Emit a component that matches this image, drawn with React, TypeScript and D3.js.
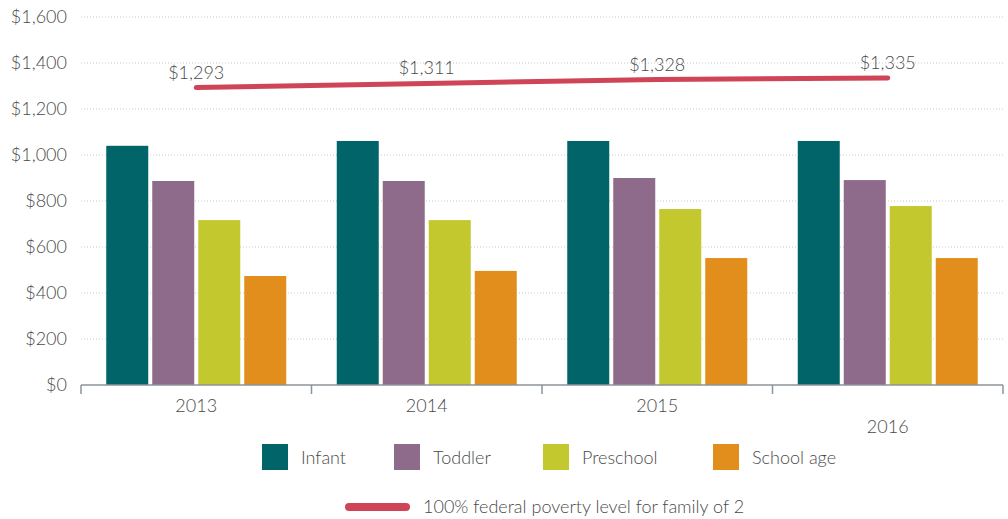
import React from 'react';
import * as d3 from 'd3';

const years = ['2013', '2014', '2015', '2016'];
const seriesNames = ['Infant', 'Toddler', 'Preschool', 'School age'];
const infant = [1040, 1061, 1061, 1061];
const toddler = [887, 887, 900, 891];
const preschool = [717, 717, 765, 778];
const schoolAge = [474, 496, 552, 552];
const poverty = [1293, 1311, 1328, 1335];
const yTicks = [0, 200, 400, 600, 800, 1000, 1200, 1400, 1600];
const povertyLabel = '100% federal poverty level for family of 2';

const colors = ['#006468', '#8e6b8a', '#c3c82f', '#e28e1c'];
const lineColor = '#cf4557';
const textColor = '#4a4a4a';
const font = 'Lato, "Open Sans", sans-serif';

const W = 1008;
const H = 519;
const left = 81;
const right = 1003;
const top = 17;
const bottom = 385;

// legend item x positions (square left edges)
const legendX = [262, 394, 543, 713];

export default function App() {
    const values = [infant, toddler, preschool, schoolAge];

    const x0 = d3.scaleBand<string>().domain(years).range([left, right]).padding(0);
    const x1 = d3.scaleBand<string>()
        .domain(seriesNames)
        .range([-90, 90])
        .paddingInner(4 / 46)
        .paddingOuter(0);
    const y = d3.scaleLinear().domain([0, 1600]).range([bottom, top]);
    const fmt = d3.format('$,');

    const cx = (yr: string) => (x0(yr) || 0) + x0.bandwidth() / 2;

    const line = d3.line<number>()
        .x((_, i) => cx(years[i]))
        .y((d) => y(d));

    return (
        <svg
            width={W}
            height={H}
            style={{ position: 'absolute', left: 0, top: 0, background: '#fff' }}
            fontFamily={font}
            fontWeight={300}
        >
            {/* gridlines */}
            {yTicks.filter((t) => t > 0).map((t) => (
                <line
                    key={'g' + t}
                    x1={left}
                    x2={right}
                    y1={y(t)}
                    y2={y(t)}
                    stroke="#c8c8c8"
                    strokeWidth={1}
                    strokeDasharray="1,2"
                />
            ))}

            {/* y tick labels */}
            {yTicks.map((t) => (
                <text
                    key={'yt' + t}
                    x={67}
                    y={y(t)}
                    dy="0.36em"
                    textAnchor="end"
                    fontSize={18}
                    fill={textColor}
                >
                    {fmt(t)}
                </text>
            ))}

            {/* bars */}
            {years.map((yr, i) => (
                <g key={'b' + yr} transform={`translate(${cx(yr)},0)`}>
                    {seriesNames.map((s, j) => (
                        <rect
                            key={s}
                            x={x1(s)}
                            y={y(values[j][i])}
                            width={x1.bandwidth()}
                            height={bottom - y(values[j][i])}
                            fill={colors[j]}
                        />
                    ))}
                </g>
            ))}

            {/* x axis */}
            <line x1={left} x2={right} y1={bottom} y2={bottom} stroke="#8c939a" strokeWidth={1.5} />
            {years.map((yr) => (
                <line
                    key={'tk' + yr}
                    x1={x0(yr)}
                    x2={x0(yr)}
                    y1={bottom}
                    y2={bottom + 9}
                    stroke="#8c939a"
                    strokeWidth={1.5}
                />
            ))}
            <line x1={right} x2={right} y1={bottom} y2={bottom + 9} stroke="#8c939a" strokeWidth={1.5} />
            {years.map((yr, i) => (
                <text
                    key={'xl' + yr}
                    x={cx(yr)}
                    y={i === 3 ? 433 : 412}
                    textAnchor="middle"
                    fontSize={18}
                    fill={textColor}
                >
                    {yr}
                </text>
            ))}

            {/* poverty line */}
            <path
                d={line(poverty) || ''}
                fill="none"
                stroke={lineColor}
                strokeWidth={5}
                strokeLinecap="round"
                strokeLinejoin="round"
            />
            {poverty.map((v, i) => (
                <text
                    key={'pl' + i}
                    x={cx(years[i])}
                    y={y(v) - 9}
                    textAnchor="middle"
                    fontSize={18}
                    fill={textColor}
                >
                    {fmt(v)}
                </text>
            ))}

            {/* legend */}
            {seriesNames.map((s, j) => (
                <g key={'lg' + s} transform={`translate(${legendX[j]},444)`}>
                    <rect width={26} height={26} fill={colors[j]} />
                    <text x={39} y={20} fontSize={18} fill={textColor}>
                        {s}
                    </text>
                </g>
            ))}
            <line
                x1={349}
                x2={406}
                y1={507}
                y2={507}
                stroke={lineColor}
                strokeWidth={8}
                strokeLinecap="round"
            />
            <text x={423} y={513} fontSize={18} fill={textColor}>
                {povertyLabel}
            </text>
        </svg>
    );
}
